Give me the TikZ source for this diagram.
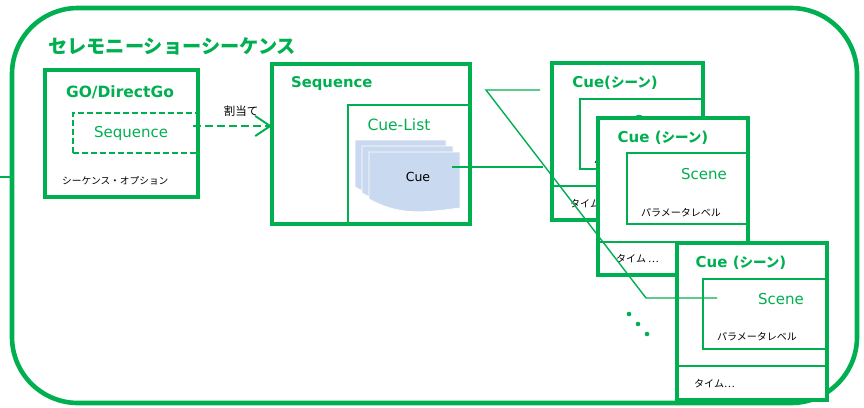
\documentclass[tikz,border=0pt]{standalone}
\usepackage{fontspec}
\setmainfont{DejaVu Sans}
\newfontfamily\jp{Noto Sans CJK JP}
\usetikzlibrary{arrows.meta}
\definecolor{grn}{HTML}{00B050}
\definecolor{docblue}{HTML}{C9D9F0}
\newcommand\fs[1]{\fontsize{#1}{#1}\selectfont}
% one sheet of the stacked cue documents, top-left corner at (#1,#2)
\newcommand\docsheet[2]{%
  \fill[docblue, draw=white, line width=0.8pt]
    (#1,#2) -- (#1+91,#2) -- (#1+91,#2+56)
    .. controls (#1+59,#2+60) and (#1+32,#2+65) .. (#1,#2+47) -- cycle;}
% heading of a cue card: #1 is the gap between "Cue" and the bracket
\newcommand\cuehead[1]{{\bfseries\fs{15}Cue#1(}{\jp\bfseries\fs{13.5}シーン}{\bfseries\fs{15})}}

\begin{document}
\begin{tikzpicture}[x=1pt, y=-1pt,
  frm/.style={draw=grn, fill=white, line width=4pt, inner sep=0pt, outer sep=0pt, anchor=north west},
  thinfrm/.style={draw=grn, line width=1.4pt, inner sep=0pt, outer sep=0pt, anchor=north west},
  dashfrm/.style={draw=grn, dashed, dash pattern=on 6pt off 3pt, line width=1.3pt, inner sep=0pt, outer sep=0pt, anchor=north west},
  lbl/.style={inner sep=0pt},
  gtxt/.style={lbl, text=grn},
  ktxt/.style={lbl, text=black},
  divider/.style={draw=grn, line width=1.8pt},
  link/.style={draw=grn, line width=1.4pt},
]
\useasboundingbox (0,0) rectangle (864,407);

% outer frame of the ceremony show sequence
\node[draw=grn, line width=4.6pt, rounded corners=66pt, minimum width=845pt, minimum height=395pt,
      anchor=north west, inner sep=0pt, outer sep=0pt] (frame) at (12,8) {};
\coordinate (stub) at (0,177);
\draw[grn, line width=2.2pt] (stub) -- (stub -| frame.west);
\node[gtxt, anchor=west] (ttl) at (48,46) {\jp\bfseries\fs{19.2}セレモニーショーシーケンス};

% GO / DirectGo block
\node[frm, minimum width=153pt, minimum height=127pt] (gobox) at (45,70) {};
\node[gtxt] (gottl) at (120,92) {\bfseries\fs{15.5}GO/DirectGo};
\node[dashfrm, minimum width=125pt, minimum height=40pt] (seqref) at (73,113) {};
\node[gtxt] (seqreftxt) at (131,133) {\fs{15}Sequence};
\node[ktxt, anchor=west] (seqopt) at (62,181) {\jp\fs{9.7}シーケンス・オプション};

% Sequence block with its cue list
\node[frm, minimum width=198pt, minimum height=160pt] (seqbox) at (272,64) {};
\node[gtxt, anchor=west] (seqttl) at (291,84) {\bfseries\fs{14.8}Sequence};
\node[thinfrm, minimum width=122pt, minimum height=119pt] (cuelist) at (348,105) {};
\node[gtxt] (cuelistttl) at (399,125) {\fs{15.5}Cue-List};
\docsheet{355}{140}
\docsheet{362}{146}
\docsheet{369}{152}
\node[ktxt] (cuetxt) at (418,177) {\fs{12.5}Cue};

% assignment arrow
\coordinate (asgfrom) at (193,126);
\draw[grn, line width=2.4pt, dash pattern=on 8pt off 4pt,
      -{Straight Barb[length=15pt, width=20pt, line width=2pt]}]
  (asgfrom) -- (asgfrom -| seqbox.west);
\node[ktxt] (asglabel) at (241,111) {\jp\fs{11.5}割当て};

% cue card 1
\node[frm, minimum width=151pt, minimum height=157pt] (cueA) at (552,63) {};
\node[thinfrm, minimum width=123pt, minimum height=70pt] (sceneA) at (580,99) {};
\draw[divider] (cueA.west |- 0,186) -- (cueA.east |- 0,186);
\node[gtxt] (cueAttl) at (615,83) {\cuehead{}};
\node[gtxt] (sceneAtxt) at (657,121) {\fs{15}Scene};
\node[ktxt, anchor=west] (paramA) at (594,160) {\jp\fs{10}パラメータレベル};
\node[ktxt, anchor=west] (timeA) at (570,204) {\jp\fs{10}タイム …};

% cue card 2
\node[frm, minimum width=150pt, minimum height=157pt] (cueB) at (598,118) {};
\node[thinfrm, minimum width=121pt, minimum height=71pt] (sceneB) at (627,153) {};
\draw[divider] (cueB.west |- 0,242) -- (cueB.east |- 0,242);
\node[gtxt] (cueBttl) at (663,138) {\cuehead{ }};
\node[gtxt] (sceneBtxt) at (704,174) {\fs{15}Scene};
\node[ktxt, anchor=west] (paramB) at (641,213) {\jp\fs{10}パラメータレベル};
\node[ktxt, anchor=west] (timeB) at (616,259) {\jp\fs{10}タイム …};

% cue card 3
\node[frm, minimum width=150pt, minimum height=157pt] (cueC) at (677,243) {};
\node[thinfrm, minimum width=124pt, minimum height=70pt] (sceneC) at (703,279) {};
\draw[divider] (cueC.west |- 0,366) -- (cueC.east |- 0,366);
\node[gtxt] (cueCttl) at (741,263) {\cuehead{ }};
\node[gtxt] (sceneCtxt) at (781,299) {\fs{15}Scene};
\node[ktxt, anchor=west] (paramC) at (717,337) {\jp\fs{10}パラメータレベル};
\node[ktxt, anchor=west] (timeC) at (694,384) {\jp\fs{10}タイム…};

% more cards follow
\foreach \px/\py in {629/314, 638/324, 647/334}
  \fill[grn] (\px,\py) circle (2.3pt);

% links from the cue list to the cue cards
\coordinate (docport) at (452,167);
\coordinate (cueout) at (543,167);
\draw[grn, line width=2.4pt] (docport) -- (cueout);
\coordinate (zA) at (540,90);
\coordinate (zB) at (486,90);
\coordinate (zC) at (646,298);
\coordinate (zD) at (717,298);
\draw[link] (zA) -- (zB) -- (zC) -- (zD);
\end{tikzpicture}
\end{document}
